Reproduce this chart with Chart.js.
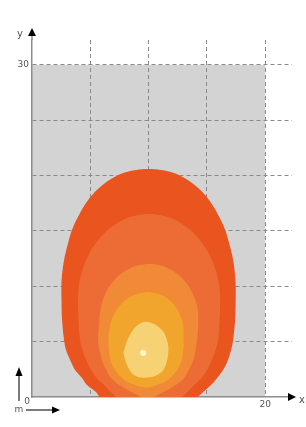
<!DOCTYPE html>
<html>
<head>
<meta charset="utf-8">
<script src="https://cdn.jsdelivr.net/npm/chart.js@4.4.1/dist/chart.umd.min.js"></script>
<style>
    html, body { margin: 0; padding: 0; background: #fff; }
    canvas { display: block; }
</style>
</head>
<body>
<canvas id="chart" width="306" height="427"></canvas>
<script>
/* contour plot: heat zones around a point source */

const xRange = [0, 22.3];
const yRange = [0, 32.25];
const xGrid = [5, 10, 15, 20];
const yGrid = [5, 10, 15, 20, 25, 30];
const xTickLabels = [20];
const yTickLabels = [30];
const originLabel = '0';
const panel = [0, 20, 0, 30]; // xmin, xmax, ymin, ymax of grey field

// zone outlines, [x, y], outermost first
const zoneOuter = [
    [10,-1.6],[14.16,0],[14.68,0.45],[15.36,1.08],[15.88,1.72],[16.39,2.44],[16.74,3.16],[17.08,4.25],[17.25,5.15],
    [17.42,6.96],[17.47,8.76],[17.45,10.57],[17.25,12.37],[16.95,13.73],[16.57,15.09],[15.97,16.44],[15.19,17.8],
    [14.25,18.88],[13.22,19.69],[12.19,20.23],[11.07,20.51],[10.0,20.6],
    [8.93,20.51],[7.81,20.23],[6.78,19.69],[5.75,18.88],[4.81,17.8],[4.03,16.44],[3.43,15.09],[3.05,13.73],
    [2.75,12.37],[2.54,10.57],[2.53,8.76],[2.58,6.96],[2.75,5.15],[2.92,4.25],[3.35,3.16],[3.69,2.44],[4.29,1.72],
    [4.72,1.08],[5.49,0.45],[5.84,0],[10,-1.6]
];
const zone2 = [
    [10,-1.2],[12.83,0],[13.35,0.45],[13.91,1.08],[14.55,1.72],[15.02,2.44],[15.36,3.16],[15.75,4.25],[15.97,5.15],
    [16.09,6.96],[16.14,8.76],[16.05,10.12],[15.75,11.47],[15.24,12.83],[14.59,13.91],[13.86,14.81],[13.02,15.54],
    [12.1,16.08],[11.33,16.35],[10.04,16.53],
    [8.76,16.35],[7.98,16.08],[7.06,15.54],[6.22,14.81],[5.49,13.91],[4.85,12.83],[4.33,11.47],[4.03,10.12],
    [3.95,8.76],[3.99,6.96],[4.12,5.15],[4.33,4.25],[4.72,3.16],[5.06,2.44],[5.54,1.72],[6.18,1.08],[6.74,0.45],
    [7.25,0],[10,-1.2]
];
const zone3 = [
    [9.9,-0.3],[10.77,0.18],[11.63,0.63],[12.32,1.08],[13.05,1.72],[13.43,2.44],[13.78,3.16],[14.03,4.25],[14.16,5.15],
    [14.25,6.5],[14.22,7.86],[14.01,8.76],[13.63,9.67],[13.02,10.57],[12.35,11.2],[11.62,11.65],[11.02,11.88],[10.13,12.01],
    [9.06,11.88],[8.46,11.65],[7.73,11.2],[7.06,10.57],[6.45,9.67],[6.08,8.76],[5.86,7.86],[5.75,6.5],
    [5.67,5.15],[5.79,4.25],[6.05,3.16],[6.39,2.44],[6.78,1.72],[7.51,1.08],[8.2,0.63],[9.06,0.18],[9.9,-0.3]
];
const zone4 = [
    [13.0,5.6],[12.96,6.5],[12.7,7.41],[12.21,8.31],[11.67,8.85],[11.12,9.21],[9.96,9.49],
    [8.76,9.21],[8.15,8.85],[7.58,8.31],[7.0,7.41],[6.7,6.5],[6.57,5.6],[6.57,4.7],[6.65,3.79],[6.78,3.16],
    [7.12,2.44],[7.73,1.72],[8.41,1.26],[9.79,0.86],[11.16,1.26],[11.85,1.72],[12.45,2.44],[12.79,3.16],
    [12.92,3.79],[13.0,4.7],[13.0,5.6]
];
const zoneCore = [
    [7.84,3.95],[8.11,2.98],[8.56,2.14],[9.1,1.81],[9.7,1.74],[10.56,1.9],[11.27,2.44],[11.59,3.34],[11.7,4.4],
    [11.55,5.24],[11.27,5.9],[10.56,6.55],[9.7,6.8],[9.06,6.5],[8.56,5.9],[8.11,4.97],[7.84,3.95]
];
const hotSpot = [[9.53, 3.97]];

const zones = [zoneOuter, zone2, zone3, zone4, zoneCore];
const zoneColors = ['#ea541f', '#ed6c35', '#f08a36', '#f2a52c', '#f6d274'];
const zoneTension = [0.35, 0.35, 0.35, 0.35, 0.3];

function toPoints(arr) {
    return arr.map(p => ({ x: p[0], y: p[1] }));
}

const datasets = zones.map((z, i) => ({
    data: toPoints(z),
    showLine: true,
    fill: 'shape',
    backgroundColor: zoneColors[i],
    borderWidth: 0,
    pointRadius: 0,
    tension: zoneTension[i],
    order: zones.length + 1 - i,
}));
datasets.push({
    data: toPoints(hotSpot),
    backgroundColor: '#fff7c9',
    borderWidth: 0,
    pointRadius: 3,
    order: 0,
});

function arrow(ctx, x1, y1, x2, y2, head, half) {
    const a = Math.atan2(y2 - y1, x2 - x1);
    const bx = x2 - Math.cos(a) * head, by = y2 - Math.sin(a) * head;
    ctx.beginPath();
    ctx.moveTo(x1, y1);
    ctx.lineTo(bx, by);
    ctx.stroke();
    ctx.beginPath();
    ctx.moveTo(x2, y2);
    ctx.lineTo(bx - Math.sin(a) * half, by + Math.cos(a) * half);
    ctx.lineTo(bx + Math.sin(a) * half, by - Math.cos(a) * half);
    ctx.closePath();
    ctx.fill();
}

const decor = {
    id: 'decor',
    beforeDraw(chart) {
        const { ctx, scales: { x, y } } = chart;
        const l = x.getPixelForValue(panel[0]), r = x.getPixelForValue(panel[1]);
        const b = y.getPixelForValue(panel[2]), t = y.getPixelForValue(panel[3]);
        ctx.save();
        ctx.fillStyle = '#d3d3d3';
        ctx.fillRect(l, t, r - l, b - t);
        ctx.restore();
    },
    afterDraw(chart) {
        const { ctx, chartArea: area, scales: { x, y } } = chart;
        const x0 = x.getPixelForValue(0), y0 = y.getPixelForValue(0);
        ctx.save();

        // axis arrows
        ctx.strokeStyle = '#8c8c8c';
        ctx.fillStyle = '#000';
        ctx.lineWidth = 1.5;
        arrow(ctx, x0, area.top, x0, area.top - 12, 8, 4);
        arrow(ctx, area.right - 4, y0, area.right + 4, y0, 8, 4);

        // labels
        ctx.fillStyle = '#555';
        ctx.font = '9px "DejaVu Sans"';
        ctx.textBaseline = 'middle';
        ctx.textAlign = 'right';
        yTickLabels.forEach(v => ctx.fillText(String(v), x0 - 3, y.getPixelForValue(v)));
        ctx.fillText(originLabel, x0 - 2, y0 + 5);
        ctx.textAlign = 'center';
        xTickLabels.forEach(v => ctx.fillText(String(v), x.getPixelForValue(v), y0 + 8));
        ctx.font = '10px "DejaVu Sans"';
        ctx.fillText('y', x0 - 12, area.top - 6);
        ctx.fillText('x', area.right + 10, y0 + 3);

        // unit indicator bottom-left
        ctx.strokeStyle = '#222';
        ctx.fillStyle = '#000';
        ctx.lineWidth = 1.2;
        arrow(ctx, x0 - 13, y0 + 4, x0 - 13, y0 - 30, 9, 3.5);
        arrow(ctx, x0 - 6, y0 + 13, x0 + 28, y0 + 13, 8, 3.5);
        ctx.fillStyle = '#555';
        ctx.font = '9px "DejaVu Sans"';
        ctx.textAlign = 'center';
        ctx.fillText('m', x0 - 13, y0 + 13);
        ctx.restore();
    }
};

const gridStyle = {
    grid: { color: '#8a8a8a', lineWidth: 1, drawTicks: false },
    border: { display: true, color: '#8c8c8c', width: 1.5, dash: [4, 3] },
    ticks: { display: false },
};

new Chart(document.getElementById('chart'), {
    type: 'scatter',
    data: { datasets: datasets },
    options: {
        responsive: false,
        animation: false,
        layout: { padding: { left: 32, right: 14, top: 40, bottom: 30 } },
        scales: {
            x: {
                type: 'linear', min: xRange[0], max: xRange[1],
                afterBuildTicks: s => { s.ticks = xGrid.map(v => ({ value: v })); },
                ...gridStyle
            },
            y: {
                type: 'linear', min: yRange[0], max: yRange[1],
                afterBuildTicks: s => { s.ticks = yGrid.map(v => ({ value: v })); },
                ...gridStyle
            }
        },
        plugins: {
            legend: { display: false },
            tooltip: { enabled: false }
        }
    },
    plugins: [decor]
});
</script>
</body>
</html>
